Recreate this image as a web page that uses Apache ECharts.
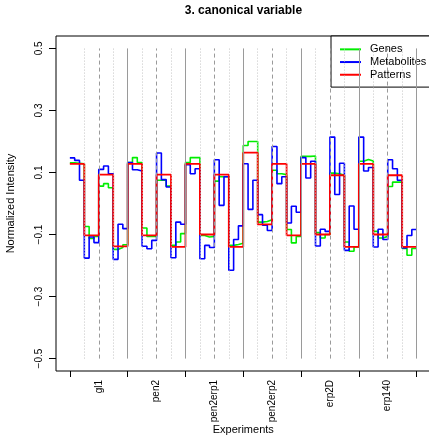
<!DOCTYPE html>
<html>
<head>
<meta charset="utf-8">
<script src="https://cdn.jsdelivr.net/npm/echarts@6/dist/echarts.min.js"></script>
<style>html,body{margin:0;padding:0;background:#fff}#c{width:429px;height:438px}</style>
</head>
<body>
<div id="c"></div>
<script>
// Experiments (groups), 4 conditions each, 3 replicates per condition
const categories = ['gl1', 'pen2', 'pen2erp1', 'pen2erp2', 'erp2D', 'erp140'];
const yTickValues = [-0.5, -0.3, -0.1, 0.1, 0.3, 0.5];

const genes = [
  0.131, 0.130, 0.128, -0.074, -0.113, -0.106, 0.056, 0.064, 0.051, -0.148, -0.142, -0.133,
  0.132, 0.148, 0.132, -0.079, -0.106, -0.106, 0.075, 0.075, 0.056, -0.135, -0.124, -0.097,
  0.132, 0.148, 0.148, -0.103, -0.108, -0.106, 0.072, 0.086, 0.086, -0.135, -0.132, -0.128,
  0.187, 0.200, 0.200, -0.060, -0.058, -0.052, 0.107, 0.096, 0.093, -0.084, -0.127, -0.106,
  0.152, 0.152, 0.153, -0.094, -0.111, -0.100, 0.098, 0.096, 0.091, -0.124, -0.154, -0.140,
  0.136, 0.142, 0.137, -0.090, -0.111, -0.106, 0.055, 0.069, 0.069, -0.145, -0.167, -0.145
];
const metabolites = [
  0.147, 0.139, 0.075, -0.176, -0.108, -0.126, 0.110, 0.121, 0.096, -0.180, -0.067, -0.081,
  0.132, 0.109, 0.105, -0.138, -0.146, -0.119, 0.163, 0.077, 0.053, -0.175, -0.060, -0.067,
  0.125, 0.096, 0.112, -0.178, -0.135, -0.142, 0.141, -0.006, 0.086, -0.215, -0.116, -0.072,
  0.128, -0.019, 0.075, -0.036, -0.070, -0.087, 0.184, 0.064, 0.086, -0.063, -0.009, -0.028,
  0.148, 0.082, 0.136, -0.137, -0.083, -0.090, 0.214, 0.029, 0.130, -0.151, -0.008, -0.083,
  0.214, 0.105, 0.116, -0.140, -0.083, -0.116, 0.141, 0.112, 0.075, -0.143, -0.103, -0.084
];
const patterns = [
  0.128, -0.103, 0.093, -0.138,
  0.128, -0.103, 0.093, -0.140,
  0.128, -0.100, 0.093, -0.140,
  0.164, -0.067, 0.128, -0.103,
  0.128, -0.100, 0.091, -0.140,
  0.128, -0.100, 0.091, -0.140
];

const nConditions = categories.length * 4;

function stepData(values) {
  const per = values.length / nConditions;
  const pts = values.map((v, i) => [i / per, v]);
  pts.push([nConditions, values[values.length - 1]]);
  return pts;
}

// vertical reference lines
const vLines = [];
for (let k = 1; k <= nConditions; k++) {
  let style;
  if (k % 4 === 0) style = { color: '#9a9a9a', type: 'solid', width: 1 };
  else if (k % 2 === 0) style = { color: '#9a9a9a', type: [4, 3], width: 1 };
  else style = { color: '#c4c4c4', type: [1, 2], width: 1 };
  vLines.push([
    { coord: [k, -0.5], lineStyle: style },
    { coord: [k, 0.5], lineStyle: style }
  ]);
}

const fmtNum = v => v.toFixed(1).replace('-', '\u2212');

const chart = echarts.init(document.getElementById('c'), null, { renderer: 'canvas' });
chart.setOption({
  animation: false,
  textStyle: { fontFamily: 'Liberation Sans, Arial, sans-serif', color: '#000' },
  title: {
    text: '3. canonical variable',
    left: 243.4, top: 5, textAlign: 'center', padding: 0,
    textStyle: { fontSize: 12, fontWeight: 'bold', color: '#000', fontFamily: 'Liberation Sans, Arial, sans-serif' }
  },
  legend: {
    data: ['Genes', 'Metabolites', 'Patterns'],
    orient: 'vertical', left: 331, top: 36,
    padding: [7, 10, 6, 9], itemGap: 0, itemWidth: 21, itemHeight: 2,
    icon: 'rect',
    backgroundColor: '#fff', borderColor: '#000', borderWidth: 1, borderRadius: 0,
    selectedMode: false,
    textStyle: { fontSize: 11, color: '#000', lineHeight: 12.7, padding: [0, 0, 0, 4] }
  },
  grid: {
    left: 56, top: 36, width: 374.5, height: 335,
    outerBoundsMode: 'none', containLabel: false,
    show: true, borderColor: '#000', borderWidth: 1, backgroundColor: 'transparent'
  },
  xAxis: {
    type: 'value', min: -0.96, max: nConditions + 0.96,
    name: 'Experiments', nameLocation: 'middle', nameGap: 53, nameMoveOverlap: false,
    nameTextStyle: { fontSize: 11, color: '#000' },
    axisLine: { show: false, onZero: false },
    splitLine: { show: false },
    axisTick: { show: true, length: 6, lineStyle: { color: '#000' },
      customValues: categories.map((c, i) => i * 4).concat([nConditions]) },
    axisLabel: { show: true, rotate: 90, margin: 9, fontSize: 10, color: '#000',
      customValues: categories.map((c, i) => i * 4 + 2),
      formatter: v => categories[Math.round((v - 2) / 4)] }
  },
  yAxis: {
    type: 'value', min: -0.54, max: 0.54,
    name: 'Normalized Intensity', nameLocation: 'middle', nameGap: 40, nameMoveOverlap: false,
    nameTextStyle: { fontSize: 11, color: '#000' },
    axisLine: { show: false, onZero: false },
    splitLine: { show: false },
    axisTick: { show: true, length: 7, lineStyle: { color: '#000' }, customValues: yTickValues },
    axisLabel: { show: true, rotate: 90, margin: 12, fontSize: 10, color: '#000',
      customValues: yTickValues, formatter: fmtNum }
  },
  series: [
    {
      type: 'line', data: [[-100, -100]], symbol: 'none', silent: true,
      lineStyle: { opacity: 0 },
      markLine: { silent: true, symbol: 'none', label: { show: false }, animation: false, data: vLines }
    },
    { name: 'Genes', type: 'line', step: 'end', symbol: 'none', data: stepData(genes),
      lineStyle: { color: '#00ee00', width: 1.6 }, itemStyle: { color: '#00ee00' } },
    { name: 'Metabolites', type: 'line', step: 'end', symbol: 'none', data: stepData(metabolites),
      lineStyle: { color: '#0000ff', width: 1.6 }, itemStyle: { color: '#0000ff' } },
    { name: 'Patterns', type: 'line', step: 'end', symbol: 'none', data: stepData(patterns),
      lineStyle: { color: '#ff0000', width: 1.8 }, itemStyle: { color: '#ff0000' } }
  ]
});
</script>
</body>
</html>
